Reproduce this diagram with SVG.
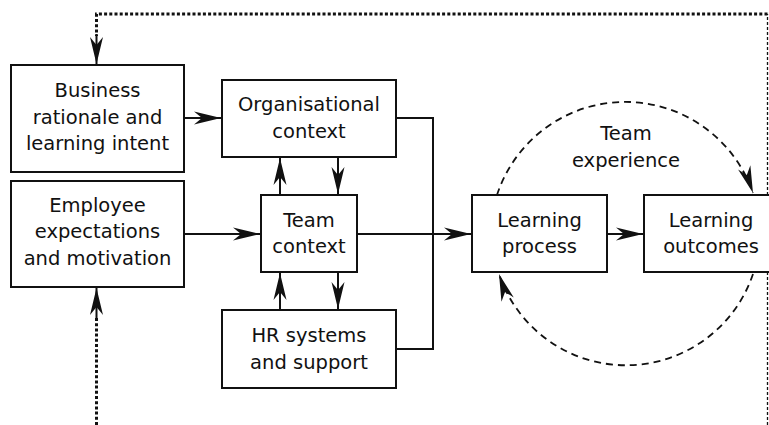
<svg xmlns="http://www.w3.org/2000/svg" width="769" height="425" viewBox="0 0 769 425">
  <style>
    .box { fill: #ffffff; stroke: #111111; stroke-width: 2; }
    .lbl { font-family: "DejaVu Sans", Verdana, sans-serif; font-size: 19.5px; fill: #111111; text-anchor: middle; }
    .link { fill: none; stroke: #111111; stroke-width: 2; }
    .loop { fill: none; stroke: #111111; stroke-width: 1.8; stroke-dasharray: 7 5; }
    .fb { fill: none; stroke: #111111; stroke-width: 3; stroke-dasharray: 3 2.2; }
    .fb-thin { fill: none; stroke: #111111; stroke-width: 1.3; stroke-dasharray: 3 2; }
  </style>
  <defs>
    <!-- notched arrowhead shared by all connectors -->
    <marker id="head" markerUnits="userSpaceOnUse" markerWidth="28" markerHeight="14" refX="27" refY="7" orient="auto" viewBox="0 0 28 14">
      <path d="M0,0.5 L27,7 L0,13.5 L8,7 Z" fill="#111111"/>
    </marker>
  </defs>

  <!-- connectors -->
  <g id="connectors">
    <!-- feedback loop from the outcomes back to the inputs -->
    <path class="fb-thin" d="M767.5,425 L767.5,14"/>
    <path class="fb" d="M767.5,14 L96.5,14 L96.5,36"/>
    <path class="link" d="M96.5,34 L96.5,64" marker-end="url(#head)"/>
    <path class="fb" d="M96.5,425 L96.5,316"/>
    <path class="link" d="M96.5,318 L96.5,288" marker-end="url(#head)"/>

    <!-- inputs into context -->
    <path class="link" d="M184,118 L221,118" marker-end="url(#head)"/>
    <path class="link" d="M184,234 L260,234" marker-end="url(#head)"/>

    <!-- organisational and team context -->
    <path class="link" d="M280,195 L280,158" marker-end="url(#head)"/>
    <path class="link" d="M338,157 L338,194" marker-end="url(#head)"/>
    <!-- team context and HR systems -->
    <path class="link" d="M280,310 L280,273" marker-end="url(#head)"/>
    <path class="link" d="M338,272 L338,309" marker-end="url(#head)"/>

    <!-- contexts merge into the learning process -->
    <path class="link" d="M396,118 L433,118 L433,349 L396,349"/>
    <path class="link" d="M357,234 L471,234" marker-end="url(#head)"/>
    <path class="link" d="M607,234 L643,234" marker-end="url(#head)"/>

    <!-- team experience cycle -->
    <path class="loop" d="M497,195 A135,135 0 0,1 753,193" marker-end="url(#head)"/>
    <path class="loop" d="M753,274 A134,134 0 0,1 499,274" marker-end="url(#head)"/>
  </g>

  <g id="team-experience">
    <text class="lbl" x="626" y="140">Team</text>
    <text class="lbl" x="626" y="167">experience</text>
  </g>

  <g id="business-rationale">
    <rect class="box" x="11" y="65" width="173" height="107"/>
    <text class="lbl" x="97.5" y="97">Business</text>
    <text class="lbl" x="97.5" y="123.5">rationale and</text>
    <text class="lbl" x="97.5" y="150">learning intent</text>
  </g>

  <g id="employee-expectations">
    <rect class="box" x="11" y="181" width="173" height="106"/>
    <text class="lbl" x="97.5" y="211.5">Employee</text>
    <text class="lbl" x="97.5" y="238">expectations</text>
    <text class="lbl" x="97.5" y="265">and motivation</text>
  </g>

  <g id="organisational-context">
    <rect class="box" x="222" y="80" width="174" height="77"/>
    <text class="lbl" x="309" y="110.5">Organisational</text>
    <text class="lbl" x="309" y="138">context</text>
  </g>

  <g id="team-context">
    <rect class="box" x="261" y="195" width="96" height="77"/>
    <text class="lbl" x="309" y="227">Team</text>
    <text class="lbl" x="309" y="253">context</text>
  </g>

  <g id="hr-systems">
    <rect class="box" x="222" y="310" width="174" height="78"/>
    <text class="lbl" x="309" y="342">HR systems</text>
    <text class="lbl" x="309" y="368.5">and support</text>
  </g>

  <g id="learning-process">
    <rect class="box" x="472" y="195" width="135" height="77"/>
    <text class="lbl" x="539.5" y="227">Learning</text>
    <text class="lbl" x="539.5" y="253">process</text>
  </g>

  <g id="learning-outcomes">
    <rect class="box" x="644" y="195" width="140" height="77"/>
    <text class="lbl" x="711" y="227">Learning</text>
    <text class="lbl" x="711" y="253">outcomes</text>
  </g>
</svg>
